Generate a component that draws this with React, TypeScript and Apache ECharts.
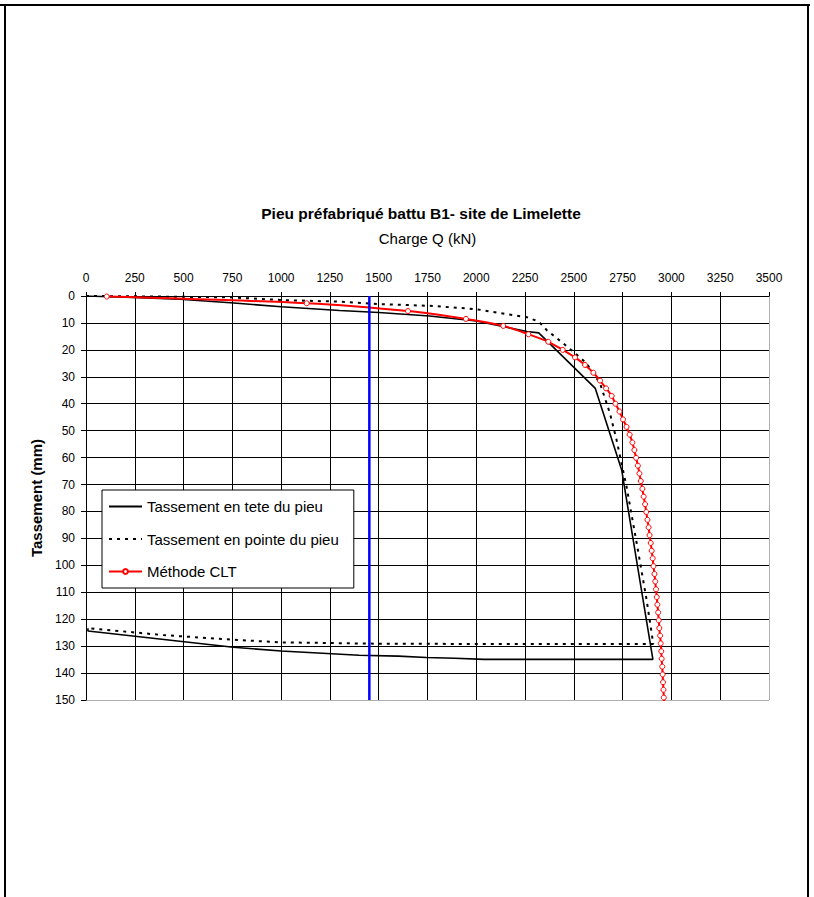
import React, { useEffect, useRef } from "react";
import * as echarts from "echarts";

// Tassement en tete du pieu (head settlement), load Q (kN) / settlement S (mm)
const headQ = [0, 240, 480, 740, 1000, 1300, 1500, 1760, 2000, 2260, 2320, 2610, 2745, 2905, 2040, 1890, 1745, 1600, 1400, 1000, 755, 10, 10];
const headS = [0, 0.5, 1.2, 2.5, 4.0, 5.4, 6.1, 7.4, 9.3, 13.2, 13.7, 34.3, 64.6, 134.9, 134.9, 134.5, 134.2, 133.7, 133.4, 131.8, 130.4, 124.4, 123.4];

// Tassement en pointe du pieu (tip settlement)
const tipQ = [0, 220, 740, 1000, 1300, 1500, 1780, 2000, 2260, 2320, 2360, 2446, 2497, 2565, 2634, 2685, 2719, 2770, 2822, 2873, 2907, 2050, 1500, 1000, 750, 395, 10, 10];
const tipS = [0, 0.1, 0.5, 1.5, 2.1, 3.0, 3.7, 4.9, 7.9, 9.5, 12.6, 17.6, 20.7, 25.0, 32.4, 43.6, 53.5, 70.8, 91.8, 112.9, 129.2, 129.2, 129.1, 128.6, 127.6, 125.9, 123.3, 122.8];

// Méthode CLT
const cltQ = [106, 1131, 1650, 1947, 2138, 2267, 2369, 2443, 2506, 2557, 2600, 2634, 2665, 2694, 2713, 2734, 2752, 2770, 2786, 2800, 2810, 2819, 2828, 2836, 2843, 2851, 2858, 2865, 2871, 2877, 2883, 2888, 2894, 2899, 2904, 2908, 2913, 2917, 2921, 2925, 2928, 2932, 2935, 2938, 2942, 2945, 2948, 2950, 2953, 2955, 2957, 2959, 2961, 2963];
const cltS = [0.2, 2.7, 5.6, 8.5, 11.1, 14.2, 17.0, 20.0, 22.8, 25.6, 28.5, 31.4, 34.3, 37.1, 40.0, 42.9, 45.8, 48.6, 51.5, 54.4, 57.2, 60.1, 63.0, 65.9, 68.7, 71.6, 74.5, 77.3, 80.2, 83.1, 85.9, 88.8, 91.7, 94.6, 97.4, 100.3, 103.2, 106.0, 108.9, 111.8, 114.6, 117.5, 120.4, 123.3, 126.1, 129.0, 131.9, 134.7, 137.6, 140.5, 143.4, 146.2, 149.1, 152.0];

// Vertical reference line (blue)
const refQ = [1452, 1452];
const refS = [0, 150];

const seriesNames = ["Tassement en tete du pieu", "Tassement en pointe du pieu", "Méthode CLT"];
const titleText = "Pieu préfabriqué battu B1- site de Limelette";
const xName = "Charge Q (kN)";
const yName = "Tassement (mm)";

const pairs = (q: number[], s: number[]) => q.map((v, i) => [v, s[i]]);

const FONT = "'Liberation Sans', Arial, sans-serif";

export default function App() {
  const ref = useRef<HTMLDivElement>(null);
  useEffect(() => {
    if (!ref.current) return;
    const chart = echarts.init(ref.current, null, { renderer: "svg" });
    const xColors = Array.from({ length: 15 }, (_, i) => (i === 14 ? "#b0b0b0" : "#000"));
    const yColors = Array.from({ length: 16 }, (_, i) => (i === 15 ? "#b0b0b0" : "#000"));
    const hidden = { color: "rgba(0,0,0,0)", borderColor: "rgba(0,0,0,0)", borderWidth: 0 };
    chart.setOption({
      animation: false,
      backgroundColor: "#fff",
      textStyle: { fontFamily: FONT },
      grid: { left: 86, top: 296, width: 683, height: 404, containLabel: false },
      graphic: [
        { type: "line", shape: { x1: 0, y1: 5, x2: 810, y2: 5 }, style: { stroke: "#000", lineWidth: 2 } },
        { type: "line", shape: { x1: 5, y1: 5, x2: 5, y2: 897 }, style: { stroke: "#000", lineWidth: 2 } },
        { type: "line", shape: { x1: 808, y1: 5, x2: 808, y2: 897 }, style: { stroke: "#000", lineWidth: 2 } },
        {
          type: "text",
          x: 421,
          y: 213,
          style: {
            text: titleText,
            fontFamily: FONT,
            fontSize: 15.5,
            fontWeight: "bold",
            fill: "#000",
            align: "center",
            verticalAlign: "middle",
          },
        },
      ],
      legend: {
        data: [
          { name: seriesNames[0], itemStyle: hidden },
          { name: seriesNames[1], itemStyle: hidden },
          { name: seriesNames[2] },
        ],
        orient: "vertical",
        left: 102,
        top: 490,
        padding: [9, 15, 9, 6],
        itemGap: 17.5,
        itemWidth: 33,
        itemHeight: 6,
        backgroundColor: "#fff",
        borderColor: "#000",
        borderWidth: 1,
        textStyle: { fontFamily: FONT, fontSize: 15, color: "#000", lineHeight: 14 },
      },
      xAxis: {
        type: "value",
        position: "top",
        min: 0,
        max: 3500,
        interval: 250,
        name: xName,
        nameLocation: "middle",
        nameGap: 50,
        nameTextStyle: { fontFamily: FONT, fontSize: 15, color: "#000" },
        axisLine: { show: true, lineStyle: { color: "#000", width: 1 } },
        axisTick: { show: true, length: 4, lineStyle: { color: "#000" } },
        axisLabel: { fontFamily: FONT, fontSize: 12, color: "#000", margin: 12, formatter: (v: number) => String(v) },
        splitLine: { show: true, lineStyle: { color: xColors, width: 1 } },
      },
      yAxis: {
        type: "value",
        inverse: true,
        min: 0,
        max: 150,
        interval: 10,
        name: yName,
        nameLocation: "middle",
        nameGap: 42,
        nameTextStyle: { fontFamily: FONT, fontSize: 15, fontWeight: "bold", color: "#000" },
        axisLine: { show: true, lineStyle: { color: "#000", width: 1 } },
        axisTick: { show: true, length: 5, lineStyle: { color: "#000" } },
        axisLabel: { fontFamily: FONT, fontSize: 12, color: "#000", margin: 11, formatter: (v: number) => String(v) },
        splitLine: { show: true, lineStyle: { color: yColors, width: 1 } },
      },
      series: [
        {
          name: seriesNames[0],
          type: "line",
          data: pairs(headQ, headS),
          symbol: "none",
          lineStyle: { color: "#000", width: 1.6 },
          itemStyle: hidden,
          z: 3,
        },
        {
          name: seriesNames[1],
          type: "line",
          data: pairs(tipQ, tipS),
          symbol: "none",
          lineStyle: { color: "#000", width: 2, type: [3, 5] },
          itemStyle: hidden,
          z: 3,
        },
        {
          name: seriesNames[2],
          type: "line",
          data: pairs(cltQ, cltS),
          symbol: "circle",
          symbolSize: 5,
          smooth: 0.3,
          lineStyle: { color: "#ff0000", width: 2 },
          itemStyle: { color: "#fff", borderColor: "#ff0000", borderWidth: 1 },
          z: 4,
        },
        {
          name: "ref",
          type: "line",
          data: pairs(refQ, refS),
          symbol: "none",
          lineStyle: { color: "#0000ff", width: 2.5 },
          z: 5,
        },
      ],
    });
    return () => chart.dispose();
  }, []);
  return (
    <div
      ref={ref}
      style={{ position: "fixed", left: 0, top: 0, width: 814, height: 897, background: "#fff" }}
    />
  );
}
